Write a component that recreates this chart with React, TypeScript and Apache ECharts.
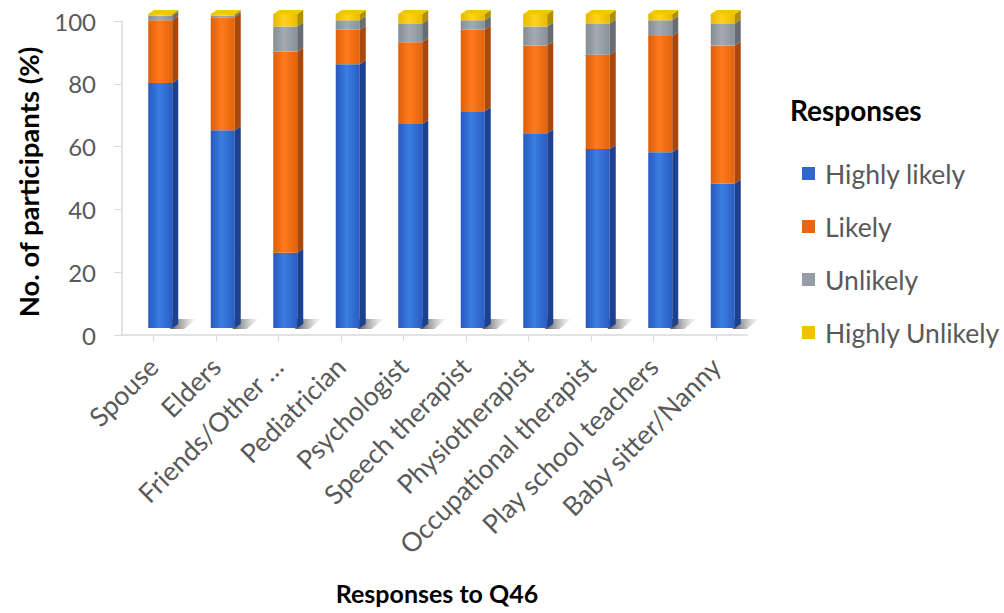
import React, { useEffect, useRef } from "react";
import * as echarts from "echarts";

const categories = [
  "Spouse",
  "Elders",
  "Friends/Other …",
  "Pediatrician",
  "Psychologist",
  "Speech therapist",
  "Physiotherapist",
  "Occupational therapist",
  "Play school teachers",
  "Baby sitter/Nanny",
];
const seriesNames = ["Highly likely", "Likely", "Unlikely", "Highly Unlikely"];
const highlyLikely = [78, 63, 24, 84, 65, 69, 62, 57, 56, 46];
const likely = [20, 36, 64, 11, 26, 26, 28, 30, 37, 44];
const unlikely = [1.5, 0.5, 8, 3, 6, 3, 6, 10, 5, 7];
const highlyUnlikely = [0.5, 0.5, 4, 2, 3, 2, 4, 3, 2, 3];
const yTicks = [0, 20, 40, 60, 80, 100];

const FONT = "Lato, 'Open Sans', sans-serif";

const palette = [
  { l: "#2858BE", m: "#3A7EE2", r: "#2A5CC2", side: "#1C4190", top: "#4A86E0", legend: "#2F67CF" },
  { l: "#DD5E0A", m: "#FF7A1C", r: "#E2640C", side: "#A9480A", top: "#FF8A35", legend: "#E8660F" },
  { l: "#848C94", m: "#A3AAB1", r: "#8A9299", side: "#666D73", top: "#B0B6BC", legend: "#959CA3" },
  { l: "#E6B800", m: "#FFD21E", r: "#E9BC00", side: "#B38F00", top: "#F0C800", legend: "#F2C200" },
];

const DX = 7;
const DY = -7;
const HALF = 12;
const SIDE = 6;
const TOPH = 4;

export default function App() {
  const ref = useRef<HTMLDivElement>(null);
  useEffect(() => {
    if (!ref.current) return;
    const chart = echarts.init(ref.current, null, { renderer: "svg" });
    const all = [highlyLikely, likely, unlikely, highlyUnlikely];
    const cum = categories.map(() => 0);
    const series = all.map((vals, si) => {
      const data = vals.map((v, i) => {
        const b = cum[i];
        cum[i] += v;
        return [i, b, b + v];
      });
      const pc = palette[si];
      const isFirst = si === 0;
      const isLast = si === all.length - 1;
      return {
        type: "custom",
        name: seriesNames[si],
        itemStyle: { color: pc.legend },
        encode: { x: 0, y: [1, 2] },
        data,
        renderItem: (params: any, api: any) => {
          const ci = api.value(0);
          const b = api.value(1);
          const t = api.value(2);
          const p0 = api.coord([ci, b]);
          const p1 = api.coord([ci, t]);
          const cx = p0[0] + DX;
          const yb = p0[1] + DY;
          const yt = p1[1] + DY;
          const x0 = cx - HALF;
          const x1 = cx + HALF;
          const children: any[] = [];
          if (isFirst) {
            children.push({
              type: "polygon",
              shape: {
                points: [
                  [x1 - 2, yb - 9],
                  [x1 + 24, yb - 9],
                  [x1 + 12, yb + 1],
                  [x1 - 2, yb + 1],
                ],
              },
              style: {
                fill: new echarts.graphic.LinearGradient(0, 0, 1, 0, [
                  { offset: 0, color: "rgba(40,40,40,0.8)" },
                  { offset: 1, color: "rgba(150,150,150,0.05)" },
                ]),
              },
            });
          }
          children.push({
            type: "rect",
            shape: { x: x0, y: yt, width: HALF * 2, height: Math.max(yb - yt, 0.5) },
            style: {
              fill: new echarts.graphic.LinearGradient(0, 0, 1, 0, [
                { offset: 0, color: pc.l },
                { offset: 0.45, color: pc.m },
                { offset: 1, color: pc.r },
              ]),
            },
          });
          children.push({
            type: "polygon",
            shape: {
              points: [
                [x1, yt],
                [x1 + SIDE, yt - TOPH],
                [x1 + SIDE, yb - TOPH],
                [x1, yb],
              ],
            },
            style: { fill: pc.side },
          });
          if (isLast) {
            children.push({
              type: "polygon",
              shape: {
                points: [
                  [x0, yt],
                  [x0 + SIDE, yt - TOPH],
                  [x1 + SIDE, yt - TOPH],
                  [x1, yt],
                ],
              },
              style: { fill: pc.top },
            });
          }
          return { type: "group", children };
        },
      };
    });

    chart.setOption({
      animation: false,
      backgroundColor: "#ffffff",
      grid: { left: 122, right: 257, top: 21, bottom: 278, containLabel: false },
      xAxis: {
        type: "category",
        data: categories,
        boundaryGap: true,
        axisLine: { show: true, lineStyle: { color: "#D9D9D9", width: 1.5 } },
        axisTick: { show: true, alignWithLabel: true, length: 6, lineStyle: { color: "#D9D9D9" } },
        axisLabel: {
          interval: 0,
          rotate: 45,
          margin: 27,
          color: "#595959",
          fontSize: 26.5,
          fontFamily: FONT,
        },
        splitLine: { show: false },
      },
      yAxis: {
        type: "value",
        min: yTicks[0],
        max: yTicks[yTicks.length - 1],
        interval: 20,
        axisLine: { show: true, lineStyle: { color: "#D9D9D9", width: 1.5 } },
        axisTick: { show: true, inside: false, length: 8, lineStyle: { color: "#D9D9D9" } },
        axisLabel: { color: "#595959", fontSize: 24, fontFamily: FONT, margin: 26 },
        splitLine: { show: false },
      },
      legend: {
        orient: "vertical",
        left: 797,
        top: 155,
        itemWidth: 13,
        itemHeight: 13,
        itemGap: 26,
        icon: "rect",
        data: seriesNames,
        textStyle: {
          color: "#595959",
          fontSize: 26.5,
          fontFamily: FONT,
          lineHeight: 26,
          padding: [0, 0, 0, 5],
        },
      },
      graphic: [
        {
          type: "text",
          left: 790,
          top: 96,
          style: { text: "Responses", fill: "#000", font: `bold 28px ${FONT}` },
        },
        {
          type: "text",
          x: 437,
          y: 593,
          style: {
            text: "Responses to Q46",
            fill: "#000",
            font: `bold 25px ${FONT}`,
            align: "center",
            verticalAlign: "middle",
          },
        },
        {
          type: "text",
          x: 28,
          y: 182,
          rotation: Math.PI / 2,
          style: {
            text: "No. of participants (%)",
            fill: "#000",
            font: `bold 27.5px ${FONT}`,
            align: "center",
            verticalAlign: "middle",
          },
        },
      ],
      series,
    });
    return () => chart.dispose();
  }, []);
  return (
    <div
      ref={ref}
      style={{ position: "absolute", left: 0, top: 0, width: 1004, height: 613 }}
    />
  );
}
